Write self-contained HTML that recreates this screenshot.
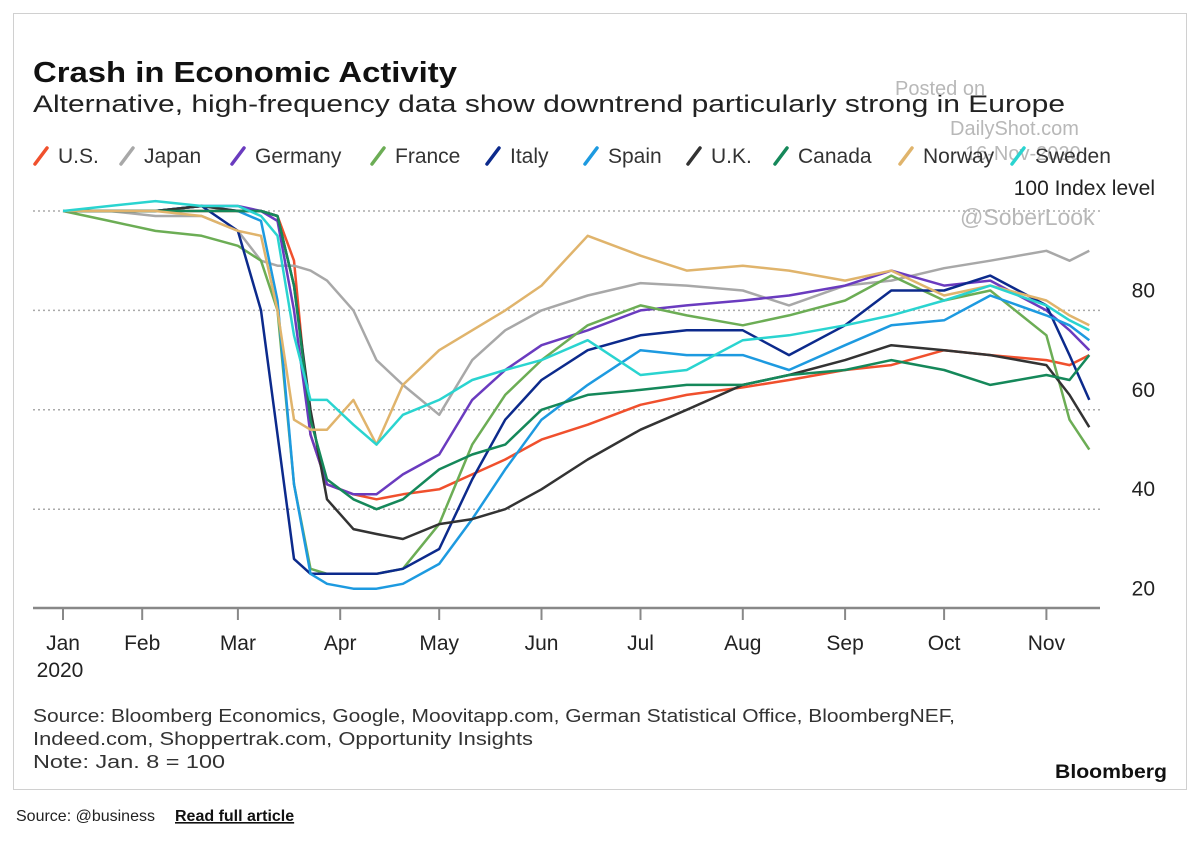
<!DOCTYPE html>
<html><head><meta charset="utf-8">
<style>
html,body{margin:0;padding:0;background:#fff;}
svg{display:block;font-family:"Liberation Sans",sans-serif;}
</style></head>
<body>
<svg id="chart" width="1200" height="856" viewBox="0 0 1200 856">
  <rect x="13.5" y="13.5" width="1173" height="776" fill="#fff" stroke="#d0d0d0"/>
  <text x="33" y="82" font-size="29" font-weight="bold" fill="#111" textLength="424" lengthAdjust="spacingAndGlyphs">Crash in Economic Activity</text>
  <text x="33" y="112" font-size="24" fill="#222" textLength="1032" lengthAdjust="spacingAndGlyphs">Alternative, high-frequency data show downtrend particularly strong in Europe</text>
  <g fill="#b8b8b8" font-size="20">
    <text x="895" y="95">Posted on</text>
    <text x="950" y="135">DailyShot.com</text>
    <text x="965" y="160">16-Nov-2020</text>
    <text x="960" y="225" font-size="23">@SoberLook</text>
  </g>
  <g id="legend"></g>
  <text x="1155" y="195" font-size="21" fill="#222" text-anchor="end">100 Index level</text>
  <g id="grid"></g>
  <g id="series"></g>
  <g id="xaxis"></g>
  <g font-size="18" fill="#333">
    <text x="33" y="722" textLength="922" lengthAdjust="spacingAndGlyphs">Source: Bloomberg Economics, Google, Moovitapp.com, German Statistical Office, BloombergNEF,</text>
    <text x="33" y="745" textLength="500" lengthAdjust="spacingAndGlyphs">Indeed.com, Shoppertrak.com, Opportunity Insights</text>
    <text x="33" y="768" textLength="192" lengthAdjust="spacingAndGlyphs">Note: Jan. 8 = 100</text>
  </g>
  <text x="1167" y="778" font-size="19" font-weight="bold" fill="#111" text-anchor="end" textLength="112" lengthAdjust="spacingAndGlyphs">Bloomberg</text>
  <text x="16" y="821" font-size="16" fill="#222">Source: @business</text>
  <text x="175" y="821" font-size="16" font-weight="bold" fill="#111" text-decoration="underline">Read full article</text>
</svg>
<script>
const days = [7,21,35,49,60,67,72,77,82,87,95,102,110,121,131,141,152,166,182,196,213,227,244,258,274,288,305,312,318];
const seriesNames = ["U.S.","Japan","Germany","France","Italy","Spain","U.K.","Canada","Norway","Sweden"];
const usValues = [100,100,100,100,100,100,99,90,55,45,43,42,43,44,47,50,54,57,61,63,64.5,66,68,69,72,71,70,69,71];
const japanValues = [100,100,99,99,96,90,89,89,88,86,80,70,65,59,70,76,80,83,85.5,85,84,81,85,86,88.5,90,92,90,92];
const germanyValues = [100,100,100,101,101,100,98,80,55,45,43,43,47,51,62,68,73,76,80,81,82,83,85,88,85,86,80,76,72];
const franceValues = [100,98,96,95,93,90,80,45,28,27,27,27,28,37,53,63,70,77,81,79,77,79,82,87,82,84,75,58,52];
const italyValues = [100,100,100,101,96,80,55,30,27,27,27,27,28,32,46,58,66,72,75,76,76,71,77,84,84,87,81,71,62];
const spainValues = [100,100,100,101,100,98,82,45,27,25,24,24,25,29,38,48,58,65,72,71,71,68,73,77,78,83,79,77,74];
const ukValues = [100,100,100,101,100,100,99,85,60,42,36,35,34,37,38,40,44,50,56,60,65,67,70,73,72,71,69,63,56.5];
const canadaValues = [100,100,100,100,100,100,99,85,58,46,42,40,42,48,51,53,60,63,64,65,65,67,68,70,68,65,67,66,71];
const norwayValues = [100,100,100,99,96,95,80,58,56,56,62,53,65,72,76,80,85,95,91,88,89,88,86,88,83,85,82,79,77];
const swedenValues = [100,101,102,101,101,99,95,75,62,62,57,53,59,62,66,68,70,74,67,68,74,75,77,79,82,85,81,78,76];
const yTicks = [100,80,60,40,20];
const monthLabels = ["Jan","Feb","Mar","Apr","May","Jun","Jul","Aug","Sep","Oct","Nov"];
const monthDays = [7,31,60,91,121,152,182,213,244,274,305];

const NS = "http://www.w3.org/2000/svg";
const colors = ["#f0502d","#a8a8a8","#6a3bbf","#6cad55","#0c2a8c","#1d9ae0","#333333","#15885a","#e0b46c","#2ad4d0"];
const allValues = [usValues,japanValues,germanyValues,franceValues,italyValues,spainValues,ukValues,canadaValues,norwayValues,swedenValues];
const xScale = d => 63 + (d - 7) * 3.3;
const yScale = v => 211 + (100 - v) * 4.97;
function mk(tag, attrs, parent){ const e=document.createElementNS(NS,tag); for(const k in attrs) e.setAttribute(k,attrs[k]); parent.appendChild(e); return e; }

const grid = document.getElementById("grid");
yTicks.forEach(v=>{
  if(v>20){
    const l = mk("line",{x1:33,x2:1100,y1:yScale(v),y2:yScale(v),stroke:"#aaa","stroke-width":1.5,"stroke-dasharray":"2,3"},grid);
    
    
  }
  if(v<100){
    const t = mk("text",{x:1155,y:yScale(v)-13,"font-size":21,fill:"#222","text-anchor":"end"},grid);
    t.textContent = v;
    
    
  }
});

const ser = document.getElementById("series");
allValues.forEach((vals,i)=>{
  const d = vals.map((v,j)=>(j?"L":"M")+xScale(days[j]).toFixed(1)+","+yScale(v).toFixed(1)).join(" ");
  const p = mk("path",{d:d,fill:"none",stroke:colors[i],"stroke-width":2.5,"stroke-linejoin":"round"},ser);
  
  
});

const xa = document.getElementById("xaxis");
const ax = mk("line",{x1:33,x2:1100,y1:608,y2:608,stroke:"#888","stroke-width":2.5},xa);


monthLabels.forEach((m,i)=>{
  const x = xScale(monthDays[i]);
  const tk = mk("line",{x1:x,x2:x,y1:608,y2:620,stroke:"#888","stroke-width":2},xa);
  
  
  const t = mk("text",{x:x,y:650,"font-size":21,fill:"#222","text-anchor":"middle"},xa);
  t.textContent = m;
  
  
});
const yr = mk("text",{x:60,y:677,"font-size":21,fill:"#222","text-anchor":"middle"},xa);
yr.textContent = "2020";



const lg = document.getElementById("legend");
const legendX = [35,121,232,372,487,585,688,775,900,1012];
seriesNames.forEach((n,i)=>{
  const g = mk("g",{},lg);
  
  
  const x = legendX[i];
  mk("line",{x1:x,y1:164,x2:x+12,y2:148,stroke:colors[i],"stroke-width":3.5,"stroke-linecap":"round"},g);
  const t = mk("text",{x:x+23,y:163,"font-size":21,fill:"#333"},g);
  t.textContent = n;
});
</script>
</body></html>
